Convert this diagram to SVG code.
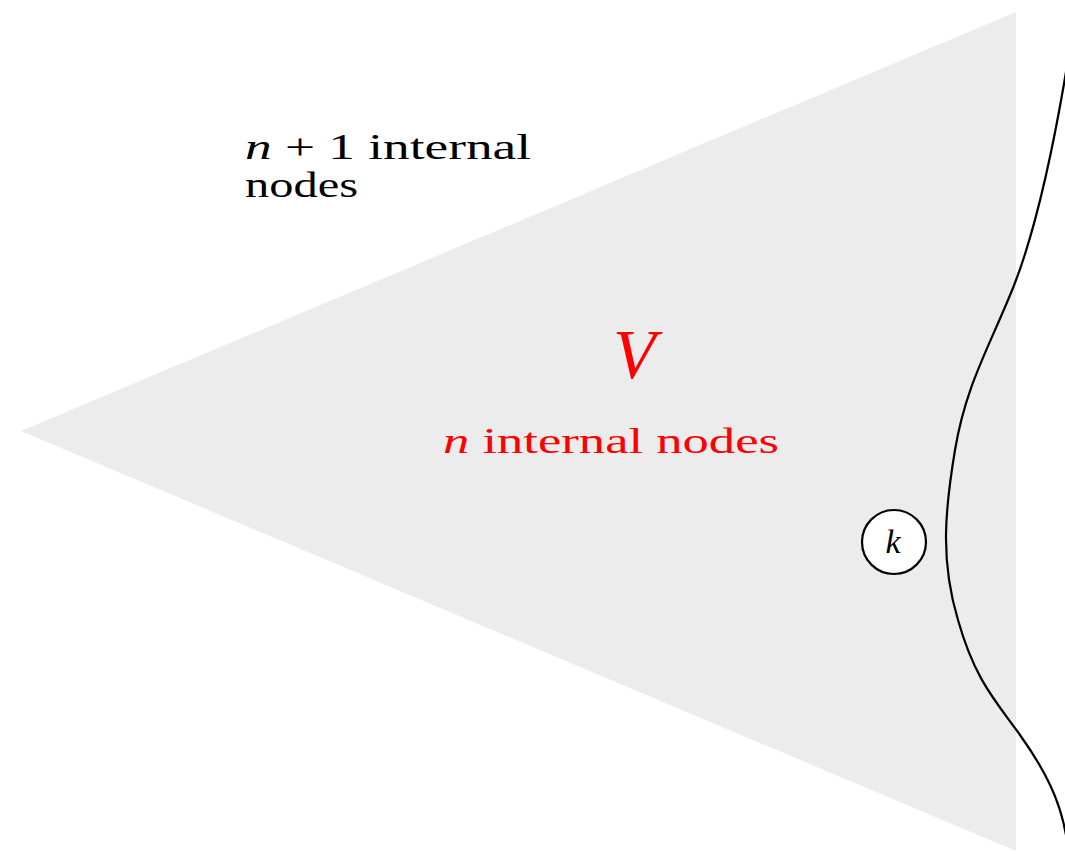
<svg xmlns="http://www.w3.org/2000/svg" width="1065" height="865" viewBox="0 0 1065 865">
<style>
.t{font-family:"Liberation Serif","DejaVu Serif",serif;font-size:36px;}
.i{font-style:italic;}
.red{fill:#ff0000;}
</style>
<rect width="1065" height="865" fill="#ffffff"/>
<g id="region">
<polygon points="21,431 1016,12 1016,851" fill="#ececec"/>
</g>
<g id="label-outer">
<text class="t" x="245" y="159" textLength="286" lengthAdjust="spacingAndGlyphs"><tspan class="i">n</tspan> + 1 internal</text>
<text class="t" x="245" y="197" textLength="113" lengthAdjust="spacingAndGlyphs">nodes</text>
</g>
<g id="label-V">
<text class="t i red" x="613" y="378" style="font-size:70px">V</text>
<text class="t red" x="443" y="453" textLength="336" lengthAdjust="spacingAndGlyphs"><tspan class="i">n</tspan> internal nodes</text>
</g>
<g id="connectors">
<path d="M 1068,60 C 1050,170 1030,250 1008,300 C 985,355 965,390 955,450 C 945,510 940,560 958,620 C 975,680 995,700 1020,735 C 1045,770 1060,800 1066,835" fill="none" stroke="#000" stroke-width="2.2"/>
</g>
<g id="node-k">
<circle cx="894" cy="542" r="32" fill="#ffffff" stroke="#000" stroke-width="2.2"/>
<text class="t i" x="893" y="553" text-anchor="middle" style="font-size:34px">k</text>
</g>
</svg>
